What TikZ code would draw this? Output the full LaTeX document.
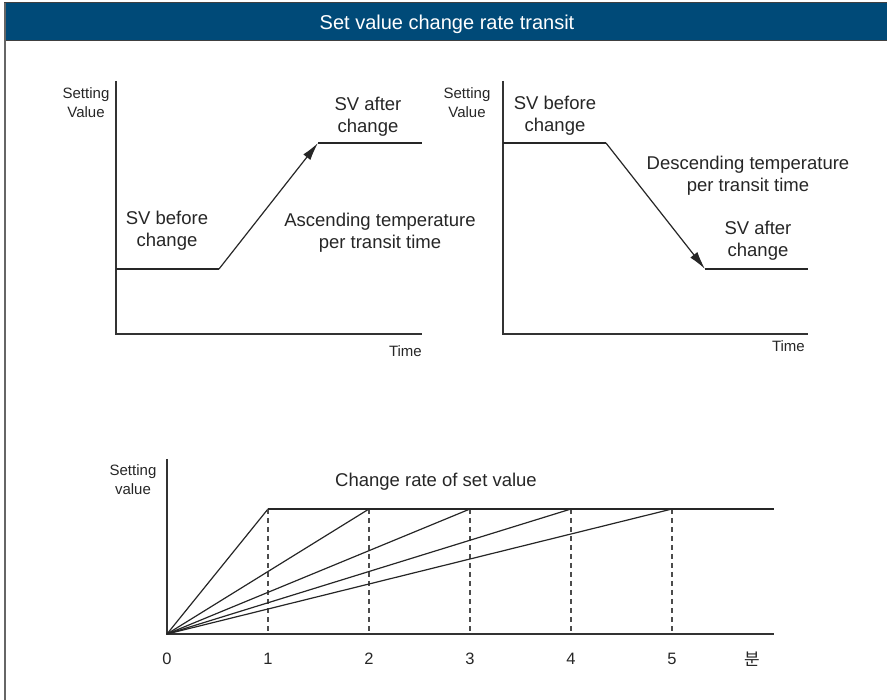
\documentclass[tikz,border=0pt]{standalone}
\usepackage{fontspec}
\setmainfont{Liberation Sans}
\newfontfamily\krfont{Noto Sans CJK KR}
\usetikzlibrary{arrows.meta}
\definecolor{barblue}{RGB}{0,74,120}

\begin{document}
\begin{tikzpicture}[x=1pt,y=-1pt,
  txt/.style={anchor=base,align=center,inner sep=0pt,text=black!85,font=\fontsize{18.5}{22}\selectfont},
  lbl/.style={anchor=base,align=center,inner sep=0pt,text=black!85,font=\fontsize{15}{19.5}\selectfont},
  tick/.style={anchor=base,inner sep=0pt,text=black!85,font=\fontsize{16.5}{20}\selectfont},
  axis/.style={line width=1.3pt,draw=black!80},
  ramp/.style={line width=1.2pt,draw=black!85},
  guide/.style={line width=1.2pt,draw=black!70,dash pattern=on 5pt off 4pt},
  >={Latex[length=18pt,width=9pt]}]
\useasboundingbox (0,0) rectangle (887,700);
% title bar and frame
\fill[barblue] (4,3) rectangle (887,41);
\draw[black!75,line width=1pt] (4,3) -- (887,3);
\draw[black!75,line width=1pt] (4,41) -- (887,41);
\draw[black!60,line width=1.4pt] (5,3) -- (5,700);
\node[anchor=base,text=white,font=\fontsize{20}{24}\selectfont] (title) at (447,30) {Set value change rate transit};

% left graph: ascending
\coordinate (la0) at (116,334);
\coordinate (lay) at (116,81);
\coordinate (lax) at (422,334);
\coordinate (lp1) at (116,269);
\coordinate (lp2) at (219,269);
\coordinate (lp3) at (318,143);
\coordinate (lp4) at (422,143);
\draw[axis] (lay) -- (la0) -- (lax);
\draw[ramp] (lp1) -- (lp2);
\draw[ramp,->] (lp2) -- (lp3);
\draw[ramp] (lp3) -- (lp4);
\node[lbl] (lsv) at (86,118) {Setting\\Value};
\node[txt] (lafter) at (368,133) {SV after\\change};
\node[txt] (lbefore) at (167,247) {SV before\\change};
\node[txt] (lrate) at (380,249) {Ascending temperature\\per transit time};
\node[lbl,anchor=base east] (ltime) at (422,357) {Time};

% right graph: descending
\coordinate (ra0) at (503,334);
\coordinate (ray) at (503,81);
\coordinate (rax) at (808,334);
\coordinate (rp1) at (503,143);
\coordinate (rp2) at (606,143);
\coordinate (rp3) at (705,269);
\coordinate (rp4) at (808,269);
\draw[axis] (ray) -- (ra0) -- (rax);
\draw[ramp] (rp1) -- (rp2);
\draw[ramp,->] (rp2) -- (rp3);
\draw[ramp] (rp3) -- (rp4);
\node[lbl] (rsv) at (467,118) {Setting\\Value};
\node[txt] (rbefore) at (555,132) {SV before\\change};
\node[txt] (rrate) at (748,192) {Descending temperature\\per transit time};
\node[txt] (rafter) at (758,257) {SV after\\change};
\node[lbl,anchor=base east] (rtime) at (805,352) {Time};

% bottom graph: change rate
\coordinate (o) at (167,634);
\coordinate (oy) at (167,459);
\coordinate (ox) at (774,634);
\coordinate (top) at (774,509);
\draw[axis] (oy) -- (o) -- (ox);
\node[lbl] (bsv) at (133,495) {Setting\\value};
\node[txt] (btitle) at (436,487) {Change rate of set value};
\node[tick] (t0) at (167,664) {0};
\foreach \i in {1,...,5} {
  \coordinate (s\i) at ({167+101*\i},509);
  \coordinate (b\i) at ({167+101*\i},634);
  \draw[ramp] (o) -- (s\i);
  \draw[guide] (s\i) -- (b\i);
  \node[tick] (t\i) at ({167+101*\i},664) {\i};
}
\draw[ramp] (s1) -- (top);
\node[tick,font=\krfont\fontsize{17}{20}\selectfont] (tunit) at (752,665) {분};
\end{tikzpicture}
\end{document}
